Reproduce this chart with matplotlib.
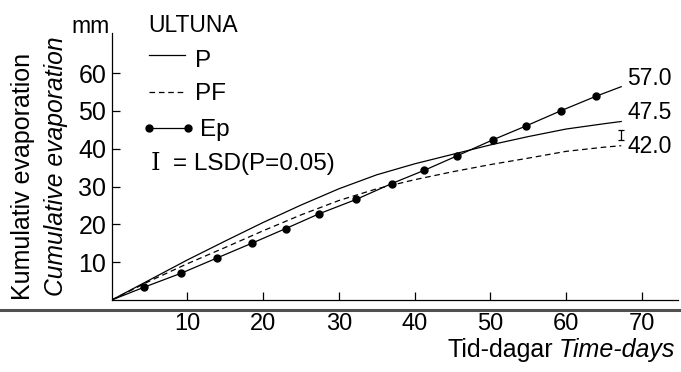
import numpy as np
import matplotlib.pyplot as plt

plt.rcParams['font.family'] = ['Liberation Sans', 'DejaVu Sans']

# Ep (measured points, every ~4.6 days)
ep_days = [4.3, 9.2, 13.9, 18.5, 23.0, 27.4, 32.3, 37.0, 41.3, 45.6, 50.4, 54.7, 59.4, 64.0]
ep_mm = [3.4, 7.1, 11.1, 15.0, 18.9, 22.8, 26.6, 30.8, 34.3, 38.1, 42.4, 46.0, 50.1, 53.9]
ep_end_day = 67.3
ep_end_mm = 56.4

# P and PF curves
curve_days = [0, 5, 10, 15, 20, 25, 30, 35, 40, 45, 50, 55, 60, 65, 67.3]
p_mm = [0, 5.3, 10.6, 15.6, 20.5, 25.1, 29.4, 33.1, 36.0, 38.5, 41.0, 43.2, 45.2, 46.6, 47.2]
pf_mm = [0, 5.0, 9.6, 13.9, 18.3, 22.5, 26.3, 29.4, 31.8, 33.9, 35.8, 37.5, 39.3, 40.4, 40.8]

end_labels = ['57.0', '47.5', '42.0']
end_label_mm = [58.7, 49.5, 40.7]

# LSD bar (P=0.05)
lsd_day = 67.3
lsd_mid = 43.65
lsd_half = 1.35

x_ticks = [10, 20, 30, 40, 50, 60, 70]
y_ticks = [10, 20, 30, 40, 50, 60]

W, H = 681, 372
fig = plt.figure(figsize=(W / 100, H / 100), dpi=100)
ax = fig.add_axes([111.7 / W, 72 / H, (678 - 111.7) / W, (300 - 33) / H])

def fx(px):
    return px / W

def fy(py):
    return 1 - py / H

lw = 0.9
ax.plot(curve_days, p_mm, color='black', lw=lw)
ax.plot(curve_days, pf_mm, color='black', lw=lw, dashes=(4.5, 3))
ax.plot([0] + ep_days + [ep_end_day], [0] + ep_mm + [ep_end_mm], color='black', lw=lw)
ax.plot(ep_days, ep_mm, 'o', color='black', ms=5)
ax.errorbar([lsd_day], [lsd_mid], yerr=[lsd_half], color='black', lw=0.9, capsize=2.5, capthick=0.9)

for lab, y in zip(end_labels, end_label_mm):
    ax.text(68.1, y, lab, fontsize=16.5, va='center', ha='left')

ax.set_xlim(0, 74.8)
ax.set_ylim(0, 70.6)
ax.set_xticks(x_ticks)
ax.set_yticks(y_ticks)
ax.tick_params(axis='both', direction='in', length=6, width=0.9)
ax.tick_params(axis='x', pad=9, labelsize=17)
ax.tick_params(axis='y', pad=4, labelsize=18)
ax.spines['top'].set_visible(False)
ax.spines['right'].set_visible(False)
for s in ['left', 'bottom']:
    ax.spines[s].set_linewidth(0.9)

# thick scan line under the axis
fig.add_artist(plt.Line2D([0, 1], [fy(310), fy(310)], color='#505050', lw=2.2, transform=fig.transFigure))

# axis titles
fig.text(fx(23), fy(176), 'Kumulativ evaporation', rotation=90, fontsize=18, ha='center', va='center')
fig.text(fx(56), fy(166), 'Cumulative evaporation', rotation=90, fontsize=17.7, style='italic',
         ha='center', va='center')
fig.text(fx(110), fy(33), 'mm', fontsize=16.5, ha='right', va='baseline')

fig.canvas.draw()
r = fig.canvas.get_renderer()
t_it = fig.text(fx(675), fy(350), 'Time-days', fontsize=18, style='italic', ha='right', va='center')
bb = t_it.get_window_extent(renderer=r)
fig.text(bb.x0 / W - 6 / W, fy(350), 'Tid-dagar', fontsize=18, ha='right', va='center')

# legend block
fig.text(fx(148), fy(32), 'ULTUNA', fontsize=16.5, ha='left', va='baseline')
fig.add_artist(plt.Line2D([fx(149), fx(185)], [fy(55), fy(55)], color='black', lw=lw))
fig.text(fx(195), fy(67), 'P', fontsize=17.5, ha='left', va='baseline')
fig.add_artist(plt.Line2D([fx(149), fx(185)], [fy(92), fy(92)], color='black', lw=lw, dashes=(4.5, 3)))
fig.text(fx(195), fy(100), 'PF', fontsize=17.5, ha='left', va='baseline')
fig.add_artist(plt.Line2D([fx(149), fx(188)], [fy(128), fy(128)], color='black', lw=lw,
                          marker='o', ms=5))
fig.text(fx(200), fy(136), 'Ep', fontsize=17.5, ha='left', va='baseline')
fig.text(fx(151), fy(170), 'I', fontsize=17.5, family='DejaVu Serif', ha='left', va='baseline')
fig.text(fx(173), fy(170), '= LSD(P=0.05)', fontsize=17.5, ha='left', va='baseline')

fig.savefig('out.png', dpi=100)
